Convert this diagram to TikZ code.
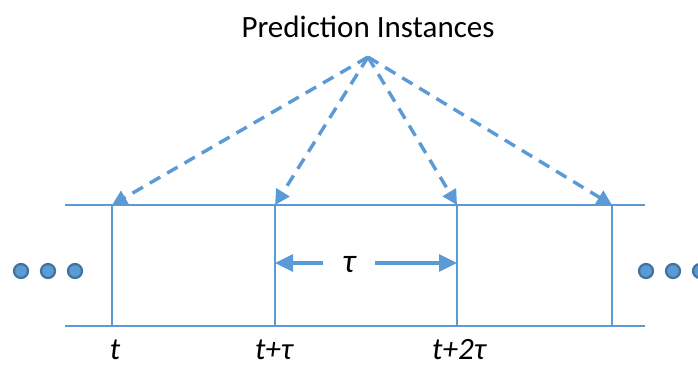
\documentclass[tikz,border=0pt]{standalone}
\usepackage{fontspec}
\setmainfont{Carlito}
\usetikzlibrary{arrows.meta}
\definecolor{lineblue}{RGB}{91,155,213}
\definecolor{dotedge}{RGB}{65,113,156}

\begin{document}
\begin{tikzpicture}[x=1pt, y=-1pt,
  tick/.style={lineblue, line width=1.8pt},
  pointer/.style={lineblue, line width=3.4pt, dash pattern=on 12pt off 8pt, -{Triangle[length=15pt,width=15pt]}},
  span/.style={lineblue, line width=3.2pt, -{Triangle[length=18pt,width=17pt]}},
  dot/.style={circle, draw=dotedge, fill=lineblue, line width=2.2pt, inner sep=0pt, minimum size=14pt},
  lbl/.style={font=\fontsize{31}{36}\selectfont\itshape}]
\useasboundingbox (0,0) rectangle (698,383);
%
% --- Title and apex of the pointers ---
\node (title) at (368,27) {\fontsize{31}{36}\selectfont Prediction Instances};
\coordinate (apex) at (368,57);
%
% --- Time axis (tops a, bottoms b) ---
\coordinate (a1) at (112,205);
\coordinate (a2) at (275,205);
\coordinate (a3) at (457,205);
\coordinate (a4) at (612,205);
\coordinate (b1) at (112,326);
\coordinate (b2) at (275,326);
\coordinate (b3) at (457,326);
\coordinate (b4) at (612,326);
\coordinate (l1) at (65,205);
\coordinate (r1) at (645,205);
\coordinate (l2) at (65,326);
\coordinate (r2) at (645,326);
\draw[tick] (l1)--(r1);
\draw[tick] (l2)--(r2);
\draw[tick] (a1)--(b1);
\draw[tick] (a2)--(b2);
\draw[tick] (a3)--(b3);
\draw[tick] (a4)--(b4);
%
% --- Pointers ---
\draw[pointer] (apex)--(a1);
\draw[pointer] (apex)--(a2);
\draw[pointer] (apex)--(a3);
\draw[pointer] (apex)--(a4);
%
% --- Interval ---
\node[lbl, font=\fontsize{34}{36}\selectfont\itshape, minimum width=51pt, inner sep=0pt] (tau) at (349,265) {τ};
\draw[span] (tau.west |- 0,263)--(a2 |- 0,263);
\draw[span] (tau.east |- 0,263)--(a3 |- 0,263);
%
% --- Ellipsis dots ---
\node[dot] (d1) at (21,271) {};
\node[dot] (d2) at (48,271) {};
\node[dot] (d3) at (75,271) {};
\node[dot] (d4) at (646,271) {};
\node[dot] (d5) at (673,271) {};
\node[dot] (d6) at (700,271) {};
%
% --- Time labels ---
\node[lbl] (t1) at (115,350) {t};
\node[lbl] (t2) at (274,350) {t+τ};
\node[lbl] (t3) at (459,350) {t+2τ};
%
\end{tikzpicture}
\end{document}
